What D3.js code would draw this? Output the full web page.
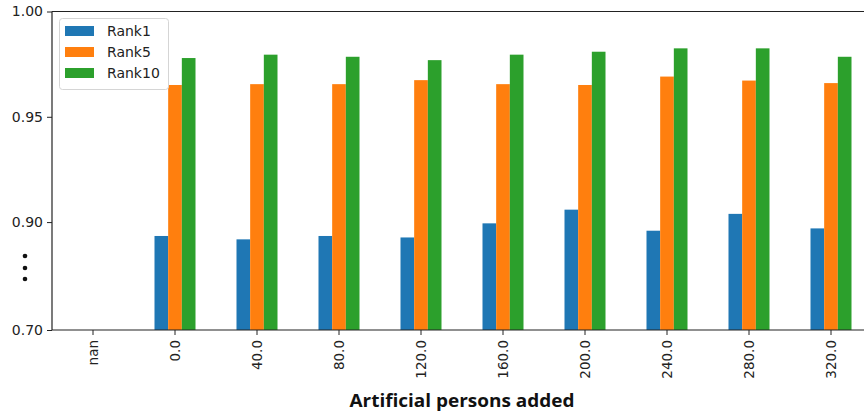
<!DOCTYPE html>
<html>
<head>
<meta charset="utf-8">
<script src="https://cdn.jsdelivr.net/npm/d3@7"></script>
<style>
  html, body { margin: 0; padding: 0; background: #fff; overflow: hidden; }
  svg { display: block; }
</style>
</head>
<body>
<svg id="chart" width="864" height="412"></svg>
<script>
// ---- data ----
const categories = ["nan", "0.0", "40.0", "80.0", "120.0", "160.0", "200.0", "240.0", "280.0", "320.0"];
const seriesNames = ["Rank1", "Rank5", "Rank10"];
const rank1  = [null, 0.8934, 0.8918, 0.8934, 0.8927, 0.8994, 0.9059, 0.8959, 0.9039, 0.8970];
const rank5  = [null, 0.9651, 0.9655, 0.9655, 0.9674, 0.9655, 0.9651, 0.9691, 0.9672, 0.9660];
const rank10 = [null, 0.9779, 0.9795, 0.9785, 0.9769, 0.9795, 0.9809, 0.9825, 0.9825, 0.9785];
const yTickValues = [0.70, 0.90, 0.95, 1.00];
const xTitle = "Artificial persons added";

const seriesValues = [rank1, rank5, rank10];
const colors = ["#1f77b4", "#ff7f0e", "#2ca02c"];

// ---- layout ----
const mLeft = 52, mTop = 11.5, mBottom = 330, mRightEnd = 872;

const svg = d3.select("#chart");

// broken y scale: 0.70 at bottom, compressed up to 0.88, linear above
const y = d3.scaleLinear()
  .domain([0.70, 0.88, 1.00])
  .range([mBottom, 264.2, mTop]);

const x = d3.scaleBand()
  .domain(categories)
  .range([mLeft, mRightEnd])
  .paddingInner(0.5)
  .paddingOuter(0.25);

const xs = d3.scaleBand()
  .domain(seriesNames)
  .range([0, x.bandwidth()]);

// bars
const rows = [];
categories.forEach((c, i) => {
  seriesNames.forEach((s, j) => {
    const v = seriesValues[j][i];
    if (v != null) rows.push({ c, s, v, j });
  });
});

svg.append("g")
  .selectAll("rect")
  .data(rows)
  .join("rect")
  .attr("x", d => x(d.c) + xs(d.s))
  .attr("y", d => y(d.v))
  .attr("width", xs.bandwidth())
  .attr("height", d => y(0.70) - y(d.v))
  .attr("fill", d => colors[d.j]);

// axes
const font = "'DejaVu Sans', sans-serif";

const yAxis = svg.append("g")
  .attr("transform", `translate(${mLeft},0)`)
  .call(d3.axisLeft(y).tickValues(yTickValues).tickFormat(d3.format(".2f")).tickSize(5).tickPadding(4));
yAxis.select(".domain").attr("stroke", "#222").attr("stroke-width", 1.2).attr("d", `M0,${mTop}V${mBottom}`);
yAxis.selectAll(".tick line").attr("stroke", "#222");
yAxis.selectAll(".tick text").attr("font-family", font).attr("font-size", "14px").attr("fill", "#222");

const xAxis = svg.append("g")
  .attr("transform", `translate(0,${mBottom})`)
  .call(d3.axisBottom(x).tickSize(5).tickPadding(4));
xAxis.select(".domain").attr("stroke", "#222").attr("stroke-width", 1.2).attr("d", `M${mLeft},0H${mRightEnd}`);
xAxis.selectAll(".tick line").attr("stroke", "#222");
xAxis.selectAll(".tick text")
  .attr("font-family", font).attr("font-size", "13.5px").attr("fill", "#222")
  .attr("transform", "rotate(-90)")
  .attr("text-anchor", "end")
  .attr("x", -10)
  .attr("y", 0)
  .attr("dy", "0.35em");

// top spine
svg.append("line")
  .attr("x1", mLeft).attr("x2", mRightEnd)
  .attr("y1", mTop).attr("y2", mTop)
  .attr("stroke", "#222").attr("stroke-width", 1.2);

// axis-break dots
svg.append("g")
  .selectAll("circle")
  .data([256, 268, 279])
  .join("circle")
  .attr("cx", 25).attr("cy", d => d).attr("r", 2.3)
  .attr("fill", "#111");

// x title
svg.append("text")
  .attr("x", 462).attr("y", 407)
  .attr("text-anchor", "middle")
  .attr("font-family", "'Open Sans', 'Liberation Sans', sans-serif")
  .attr("font-weight", "bold")
  .attr("font-size", "18.5px")
  .attr("textLength", 225)
  .attr("lengthAdjust", "spacingAndGlyphs")
  .attr("fill", "#111")
  .text(xTitle);

// legend
const lg = svg.append("g");
lg.append("rect")
  .attr("x", 59.5).attr("y", 18.5).attr("width", 109).attr("height", 71)
  .attr("rx", 3).attr("fill", "#fff").attr("fill-opacity", 0.8)
  .attr("stroke", "#d5d5d5");
seriesNames.forEach((s, i) => {
  const cy = 31 + i * 21;
  lg.append("rect")
    .attr("x", 65).attr("y", cy - 5).attr("width", 29).attr("height", 10)
    .attr("fill", colors[i]);
  lg.append("text")
    .attr("x", 107).attr("y", cy).attr("dy", "0.35em")
    .attr("font-family", font).attr("font-size", "14px").attr("fill", "#222")
    .text(s);
});
</script>
</body>
</html>
